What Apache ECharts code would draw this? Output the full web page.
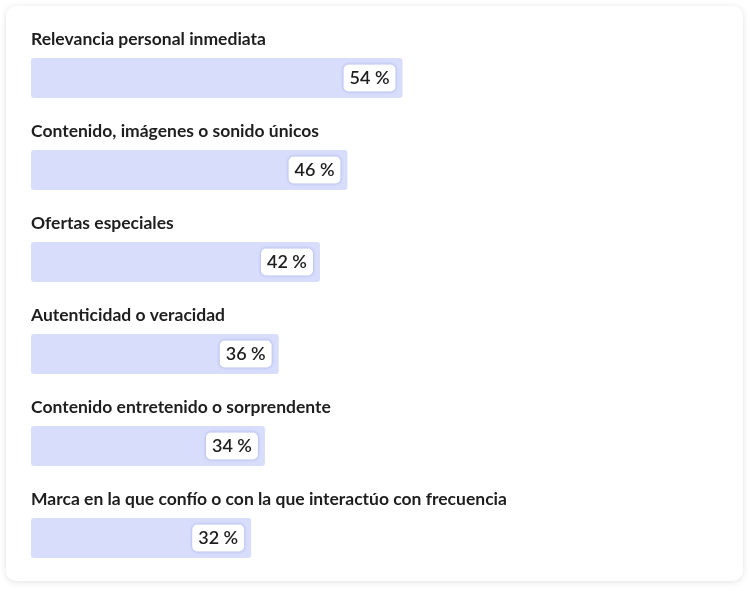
<!DOCTYPE html>
<html>
<head>
<meta charset="utf-8">
<script src="https://cdn.jsdelivr.net/npm/echarts@6/dist/echarts.min.js"></script>
<style>
html,body{margin:0;padding:0;background:#fff;}
#main{width:750px;height:591px;}
</style>
</head>
<body>
<div id="main"></div>
<script>
const categories = [
  "Relevancia personal inmediata",
  "Contenido, imágenes o sonido únicos",
  "Ofertas especiales",
  "Autenticidad o veracidad",
  "Contenido entretenido o sorprendente",
  "Marca en la que confío o con la que interactúo con frecuencia"
];
const values = [54, 46, 42, 36, 34, 32];

const chart = echarts.init(document.getElementById('main'), null, {renderer: 'canvas'});
chart.setOption({
  animation: false,
  graphic: [{
    type: 'rect',
    z: -10,
    silent: true,
    shape: {x: 6, y: 6, width: 737, height: 575, r: 10},
    style: {fill: '#fff', shadowColor: 'rgba(0,0,0,0.12)', shadowBlur: 6, shadowOffsetY: 1}
  }],
  grid: {left: 31, right: 31, top: 32, bottom: 7, containLabel: false},
  xAxis: {type: 'value', min: 0, max: 100, show: false},
  yAxis: {
    type: 'category',
    data: categories,
    inverse: true,
    show: false
  },
  series: [{
    type: 'bar',
    data: values,
    barWidth: 40,
    itemStyle: {color: '#d7ddfb', borderRadius: 3},
    label: {
      show: true,
      position: 'insideRight',
      distance: 7,
      formatter: p => p.value + ' %',
      fontFamily: 'Lato',
      fontSize: 18,
      fontWeight: 600,
      color: '#1e1e1e',
      backgroundColor: '#fff',
      borderRadius: 5,
      padding: [5, 6, 4, 6],
      shadowColor: 'rgba(90,100,200,0.45)',
      shadowBlur: 3
    }
  }, {
    type: 'bar',
    data: values,
    barWidth: 40,
    barGap: '-100%',
    silent: true,
    itemStyle: {color: 'rgba(0,0,0,0)'},
    label: {
      show: true,
      position: [0, -19],
      align: 'left',
      verticalAlign: 'middle',
      formatter: '{b}',
      fontFamily: 'Lato',
      fontWeight: 'bold',
      fontSize: 17.5,
      color: '#1e1e1e'
    }
  }]
});
</script>
</body>
</html>
